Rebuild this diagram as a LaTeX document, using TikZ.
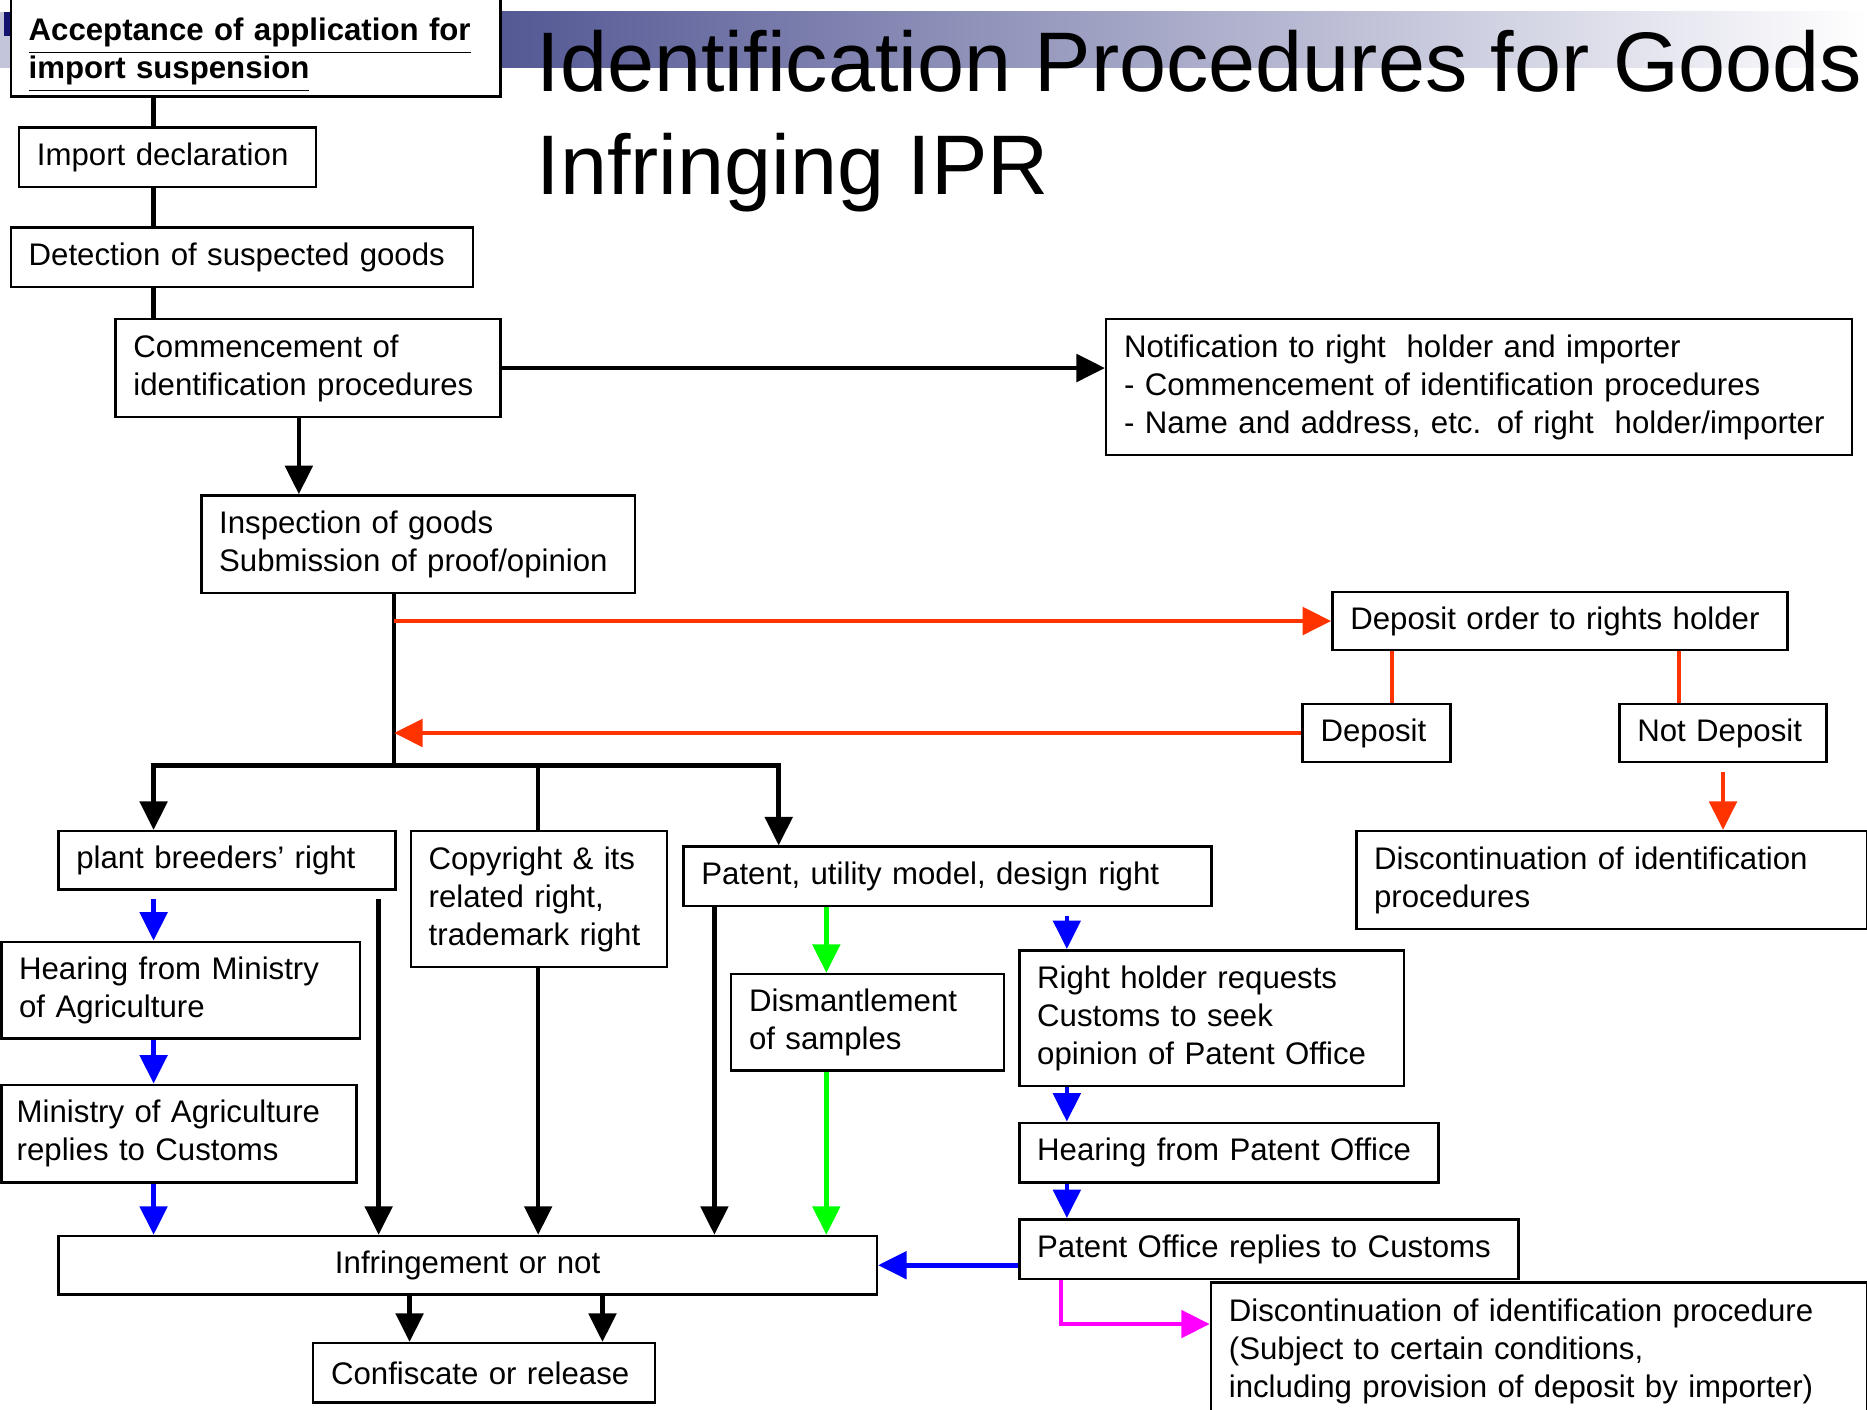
\documentclass[tikz,border=0pt]{standalone}
\usepackage{fontspec}
\setmainfont{Liberation Sans}
\usetikzlibrary{arrows.meta,positioning}
\definecolor{deporange}{RGB}{255,51,0}
\definecolor{purblue}{RGB}{0,0,255}
\definecolor{purgreen}{RGB}{0,255,0}
\definecolor{purmagenta}{RGB}{255,0,255}
\definecolor{bandblue}{RGB}{84,88,148}
\definecolor{navyband}{RGB}{20,20,110}
\newcommand{\boxfont}{\fontsize{7.45}{9.1}\selectfont}
\newcommand{\titlefont}{\fontsize{20.2}{24.5}\selectfont}
\hyphenpenalty=10000

\begin{document}
\begin{tikzpicture}[x=0.01cm,y=-0.01cm,
    box/.style={draw,fill=white,line width=.6pt,anchor=north west,align=left,inner xsep=.15cm,inner ysep=0pt,font=\boxfont},
    link/.style={line width=1.1pt},
    arr/.style={link,-{Triangle[length=6.8pt,width=6.5pt]}},
    redarr/.style={arr,deporange},
    bluearr/.style={arr,purblue},
    greenarr/.style={arr,purgreen},
    magarr/.style={arr,purmagenta}]
    \useasboundingbox (0,0) rectangle (1568,1184);

    % title band
    \shade[left color=bandblue,right color=white] (420,10) rectangle (1568,57);
    \fill[bandblue!35] (0,10) rectangle (8,57);
    \fill[navyband] (3,10) rectangle (8,30);
    \node[anchor=north west,inner sep=0pt,align=left,font=\titlefont] at (450,25) (title) {Identification Procedures for Goods\\Infringing IPR};

    % column positions
    \coordinate (ca) at (129,0);
    \coordinate (cb) at (251,0);
    \coordinate (cc) at (331,0);
    \coordinate (cpl) at (318,0);
    \coordinate (ccp) at (452,0);
    \coordinate (cpt) at (600,0);
    \coordinate (cpa) at (654,0);
    \coordinate (cgr) at (694,0);
    \coordinate (cbl) at (896,0);
    \coordinate (cf1) at (344,0);
    \coordinate (cf2) at (506,0);
    \coordinate (cr1) at (1169,0);
    \coordinate (cr2) at (1410,0);
    \coordinate (bus) at (331,643);
    \coordinate (cm) at (891,1112);

    % boxes
    \node[box,text width=3.81cm,minimum height=.82cm] at (8,-2) (acc) {\rule{0pt}{9pt}\textbf{\underline{Acceptance of application for}}\\\textbf{\underline{import suspension}}};
    \node[box,text width=2.19cm,minimum height=.50cm] at (15,106) (imp) {Import declaration};
    \node[box,text width=3.58cm,minimum height=.50cm] at (8,190) (det) {Detection of suspected goods};
    \node[box,text width=2.93cm,minimum height=.82cm] at (96,267) (com) {Commencement of\\identification procedures};
    \node[box,text width=5.96cm,minimum height=1.14cm] at (928,267) (noti) {Notification to right\ \ holder and importer\\- Commencement of identification procedures\\- Name and address, etc. of right\ \ holder/importer};
    \node[box,text width=3.34cm,minimum height=.82cm] at (168,415) (insp) {Inspection of goods\\Submission of proof/opinion};
    \node[box,text width=3.52cm,minimum height=.49cm] at (1118,496) (dep) {Deposit order to rights holder};
    \node[box,text width=.94cm,minimum height=.49cm] at (1093,590) (dpt) {Deposit};
    \node[box,text width=1.44cm,minimum height=.49cm] at (1359,590) (nd) {Not Deposit};
    \node[box,text width=3.99cm,minimum height=.82cm] at (1138,697) (disc1) {Discontinuation of identification\\procedures};
    \node[box,text width=2.53cm,minimum height=.49cm] at (48,697) (plant) {plant breeders’ right};
    \node[box,text width=1.85cm,minimum height=1.14cm] at (344,697) (copy) {Copyright \& its\\related right,\\trademark right};
    \node[box,text width=4.13cm,minimum height=.50cm] at (573,710) (pat) {Patent, utility model, design right};
    \node[box,text width=2.71cm,minimum height=.81cm] at (0,790) (hear) {Hearing from Ministry\\of Agriculture};
    \node[box,text width=2.72cm,minimum height=.82cm,inner xsep=.13cm] at (0,910) (min) {Ministry of Agriculture\\replies to Customs};
    \node[box,text width=1.99cm,minimum height=.81cm] at (613,817) (dis) {Dismantlement\\of samples};
    \node[box,text width=2.93cm,minimum height=1.14cm] at (855,797) (rh) {Right holder requests\\Customs to seek\\opinion of Patent Office};
    \node[box,text width=3.22cm,minimum height=.50cm] at (855,942) (hpo) {Hearing from Patent Office};
    \node[box,text width=3.89cm,minimum height=.50cm] at (855,1023) (po) {Patent Office replies to Customs};
    \node[box,text width=6.57cm,minimum height=.49cm,align=center] at (48,1037) (infr) {Infringement or not};
    \node[box,text width=2.57cm,minimum height=.50cm] at (262,1127) (conf) {Confiscate or release};
    \node[box,text width=5.21cm,minimum height=1.16cm] at (1016,1076) (disc2) {Discontinuation of identification procedure\\(Subject to certain conditions,\\including provision of deposit by importer)};

    % main line
    \draw[link] (acc.south -| ca) -- (imp.north -| ca);
    \draw[link] (imp.south -| ca) -- (det.north -| ca);
    \draw[link] (det.south -| ca) -- (com.north -| ca);
    \draw[arr] (com.east) -- (com.east -| noti.west);
    \draw[arr] (com.south -| cb) -- (insp.north -| cb);
    \draw[link] (insp.south -| cc) -- (bus);

    % deposit order
    \draw[redarr] (dep.west -| cc) -- (dep.west);
    \draw[link,deporange] (dep.south -| cr1) -- (dpt.north -| cr1);
    \draw[link,deporange] (dep.south -| cr2) -- (nd.north -| cr2);
    \draw[redarr] (dpt.west) -- (dpt.west -| cc);
    \draw[redarr,shorten <=2pt] (nd.south) -- (disc1.north -| nd.south);

    % kinds of right
    \draw[arr] (bus) -| (plant.north -| ca);
    \draw[arr] (bus) -| (pat.north -| cpa);
    \draw[link] (bus -| ccp) -- (copy.north -| ccp);

    % plant breeders' right
    \draw[bluearr,shorten <=2pt] (plant.south -| ca) -- (hear.north -| ca);
    \draw[bluearr] (hear.south -| ca) -- (min.north -| ca);
    \draw[bluearr] (min.south -| ca) -- (infr.north -| ca);
    \draw[arr,shorten <=2pt] (plant.south -| cpl) -- (infr.north -| cpl);

    % copyright, patent
    \draw[arr] (copy.south -| ccp) -- (infr.north -| ccp);
    \draw[arr] (pat.south -| cpt) -- (infr.north -| cpt);
    \draw[greenarr] (pat.south -| cgr) -- (dis.north -| cgr);
    \draw[greenarr] (dis.south -| cgr) -- (infr.north -| cgr);
    \draw[bluearr,shorten <=2pt] (pat.south -| cbl) -- (rh.north -| cbl);
    \draw[bluearr] (rh.south -| cbl) -- (hpo.north -| cbl);
    \draw[bluearr] (hpo.south -| cbl) -- (po.north -| cbl);
    \draw[bluearr] (infr.east -| po.west) -- (infr.east);
    \draw[magarr] (po.south -| cm) -- (cm) -- (cm -| disc2.west);

    % result
    \draw[arr] (infr.south -| cf1) -- (conf.north -| cf1);
    \draw[arr] (infr.south -| cf2) -- (conf.north -| cf2);
\end{tikzpicture}
\end{document}
